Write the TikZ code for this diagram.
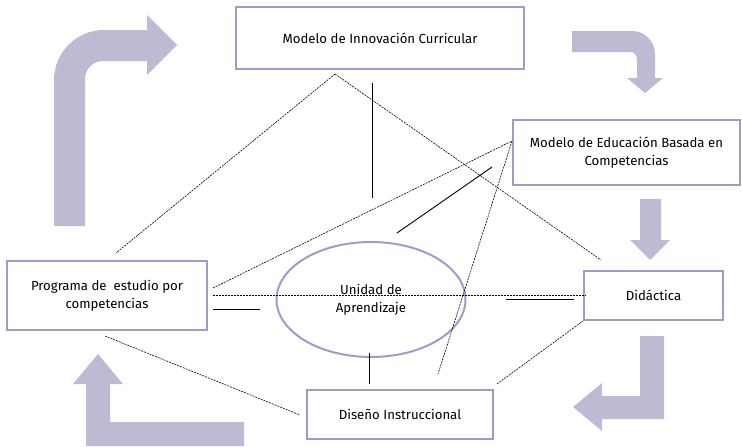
\documentclass[tikz,border=0pt]{standalone}
\usepackage{fontspec}
\setmainfont{Fira Sans}
\usetikzlibrary{shapes.geometric}
\definecolor{arrowc}{RGB}{192,185,212}
\definecolor{boxc}{RGB}{166,152,200}
\begin{document}
\begin{tikzpicture}[x=1pt,y=-1pt,
  boxnode/.style={draw=boxc,line width=2pt,fill=white,inner sep=0pt,align=center,
    font=\fontsize{13.2}{18}\selectfont},
  ellnode/.style={ellipse,draw=boxc,line width=2pt,inner sep=0pt,align=center,
    font=\fontsize{13.2}{18}\selectfont},
  dotline/.style={line width=0.6pt,dash pattern=on 2pt off 1pt},
  solline/.style={line width=0.9pt},
  bigarrow/.style={fill=arrowc}]
\useasboundingbox (0,0) rectangle (742,447);
% background arrows
\fill[bigarrow] (54,226) -- (54,80) .. controls (54,52.4) and (76.4,30) .. (104,30)
  -- (147,30) -- (147,15) -- (177,45) -- (147,75) -- (147,61) -- (103,61)
  .. controls (93.1,61) and (85,69.1) .. (85,79) -- (85,226) -- cycle;
\fill[bigarrow] (572,31) -- (632,31) .. controls (644.7,31) and (655,41.3) .. (655,54)
  -- (655,78) -- (663,78) -- (645,93) -- (627,78) -- (637,78) -- (637,59)
  .. controls (637,55.1) and (633.9,52) .. (630,52) -- (572,52) -- cycle;
\fill[bigarrow] (640,199) -- (661,199) -- (661,240) -- (670,240) -- (650,260)
  -- (630,240) -- (640,240) -- cycle;
\fill[bigarrow] (640,336) -- (664,336) -- (664,419) -- (602,419) -- (602,431)
  -- (573,407) -- (602,383) -- (602,396) -- (640,396) -- cycle;
\fill[bigarrow] (86,446) -- (86,384) -- (73,384) -- (98,354) -- (123,384)
  -- (110,384) -- (110,422) -- (244,422) -- (244,446) -- cycle;
% nodes
\node[boxnode,minimum width=288pt,minimum height=62pt] (mic) at (380,38) {Modelo de Innovación Curricular};
\node[boxnode,minimum width=227pt,minimum height=65pt] (mebc) at (626.5,152.5) {Modelo de Educación Basada en\\Competencias};
\node[boxnode,minimum width=200pt,minimum height=69pt] (pec) at (107,295.5) {Programa de~ estudio por\\competencias};
\node[boxnode,minimum width=139pt,minimum height=49pt] (did) at (653.5,295.5) {Didáctica};
\node[boxnode,minimum width=186pt,minimum height=49pt] (di) at (400,414.5) {Diseño Instruccional};
\node[ellnode,minimum width=189pt,minimum height=115pt] (ua) at (371,299.5) {Unidad de\\Aprendizaje};
% connector end points
\coordinate (apex) at (335,74);
\coordinate (pecT) at (116,253);
\coordinate (didTL) at (601,260);
\coordinate (pecR1) at (213,288);
\coordinate (mebcL) at (512,141);
\coordinate (diT) at (438,374);
\coordinate (pecR2) at (213,295);
\coordinate (didL) at (586,295);
\coordinate (pecB) at (105,336);
\coordinate (diL) at (300,415);
\coordinate (diTR) at (497,384);
\coordinate (didBL) at (583,321);
\coordinate (vA) at (372,83);
\coordinate (vB) at (372,198);
\coordinate (sA) at (397,233);
\coordinate (sB) at (492,167);
\coordinate (pA) at (213,309);
\coordinate (pB) at (260,309);
\coordinate (dA) at (506,299);
\coordinate (dB) at (574,299);
\coordinate (uA) at (369,353);
\coordinate (uB) at (369,384);
% dashed connectors
\draw[dotline] (apex) -- (pecT);
\draw[dotline] (apex) -- (didTL);
\draw[dotline] (pecR1) -- (mebcL);
\draw[dotline] (mebcL) -- (diT);
\draw[dotline] (pecR2) -- (didL);
\draw[dotline] (pecB) -- (diL);
\draw[dotline] (diTR) -- (didBL);
% solid connectors
\draw[solline] (vA) -- (vB);
\draw[solline] (sA) -- (sB);
\draw[solline] (pA) -- (pB);
\draw[solline] (dA) -- (dB);
\draw[solline] (uA) -- (uB);
\end{tikzpicture}
\end{document}
